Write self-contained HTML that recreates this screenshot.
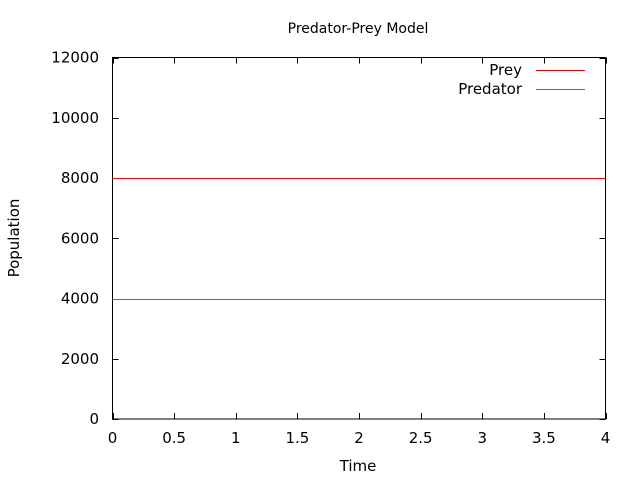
<!DOCTYPE html>
<html><head><meta charset="utf-8"><style>body{margin:0;background:#fff}svg{display:block}text{font-family:"DejaVu Sans","Liberation Sans",sans-serif;fill:#000}</style></head>
<body>
<svg id="chart" width="640" height="480" xmlns="http://www.w3.org/2000/svg">
<rect width="640" height="480" fill="#fff"/>
<text x="358" y="33" font-size="14" text-anchor="middle">Predator-Prey Model</text>
<text x="358" y="471" font-size="15" text-anchor="middle">Time</text>
<text transform="translate(19,238) rotate(-90)" font-size="15" text-anchor="middle">Population</text>
<g id="ticks"></g>
<g id="series"></g>
<rect x="112.5" y="57.5" width="493" height="361.5" fill="none" stroke="#000" stroke-width="1"/>
<g>
<text x="522" y="75" font-size="15" text-anchor="end">Prey</text>
<line x1="536" x2="585" y1="70.5" y2="70.5" stroke="#ff0000"/>
<text x="522" y="94" font-size="15" text-anchor="end">Predator</text>
<line x1="536" x2="585" y1="89.5" y2="89.5" stroke="#00b000"/>
</g>
</svg>
<script>
const xTicks=[0,0.5,1,1.5,2,2.5,3,3.5,4];
const yTicks=[0,2000,4000,6000,8000,10000,12000];
const times=[0,4];
const prey=[8000,8000];
const predator=[4000,4000];
const NS='http://www.w3.org/2000/svg';
const X0=112.5,X1=605.5,Y0=419,Y1=57.5;
const xs=v=>X0+(v-0)/(4-0)*(X1-X0);
const ys=v=>Y0-(v-0)/(12000-0)*(Y0-Y1);
const tg=document.getElementById('ticks');
function mk(t,a){const e=document.createElementNS(NS,t);for(const k in a)e.setAttribute(k,a[k]);return e;}
xTicks.forEach(v=>{const x=Math.round(xs(v))+0.5;
 const l1=mk('path',{d:`M${x},${Y0}v-6M${x},${Y1}v6`,stroke:'#000'});
 
 
 tg.appendChild(l1);
 const t=mk('text',{x:xs(v),y:443,'font-size':15,'text-anchor':'middle'});t.textContent=v;
 
 
 tg.appendChild(t);});
yTicks.forEach(v=>{const y=Math.round(ys(v))+0.5;
 const l1=mk('path',{d:`M${X0},${y}h6M${X1},${y}h-6`,stroke:'#000'});
 
 
 tg.appendChild(l1);
 const t=mk('text',{x:99,y:ys(v)+5,'font-size':15,'text-anchor':'end'});t.textContent=v;
 
 
 tg.appendChild(t);});
const sg=document.getElementById('series');
function line(vals,color,name){const p=mk('polyline',{points:vals.map((v,i)=>xs(times[i])+','+(Math.round(ys(v))+0.5)).join(' '),fill:'none',stroke:color});
 
 
 sg.appendChild(p);}
line(prey,'#ff0000','prey-line');
line(predator,'#00b000','predator-line');
</script>
</body></html>
